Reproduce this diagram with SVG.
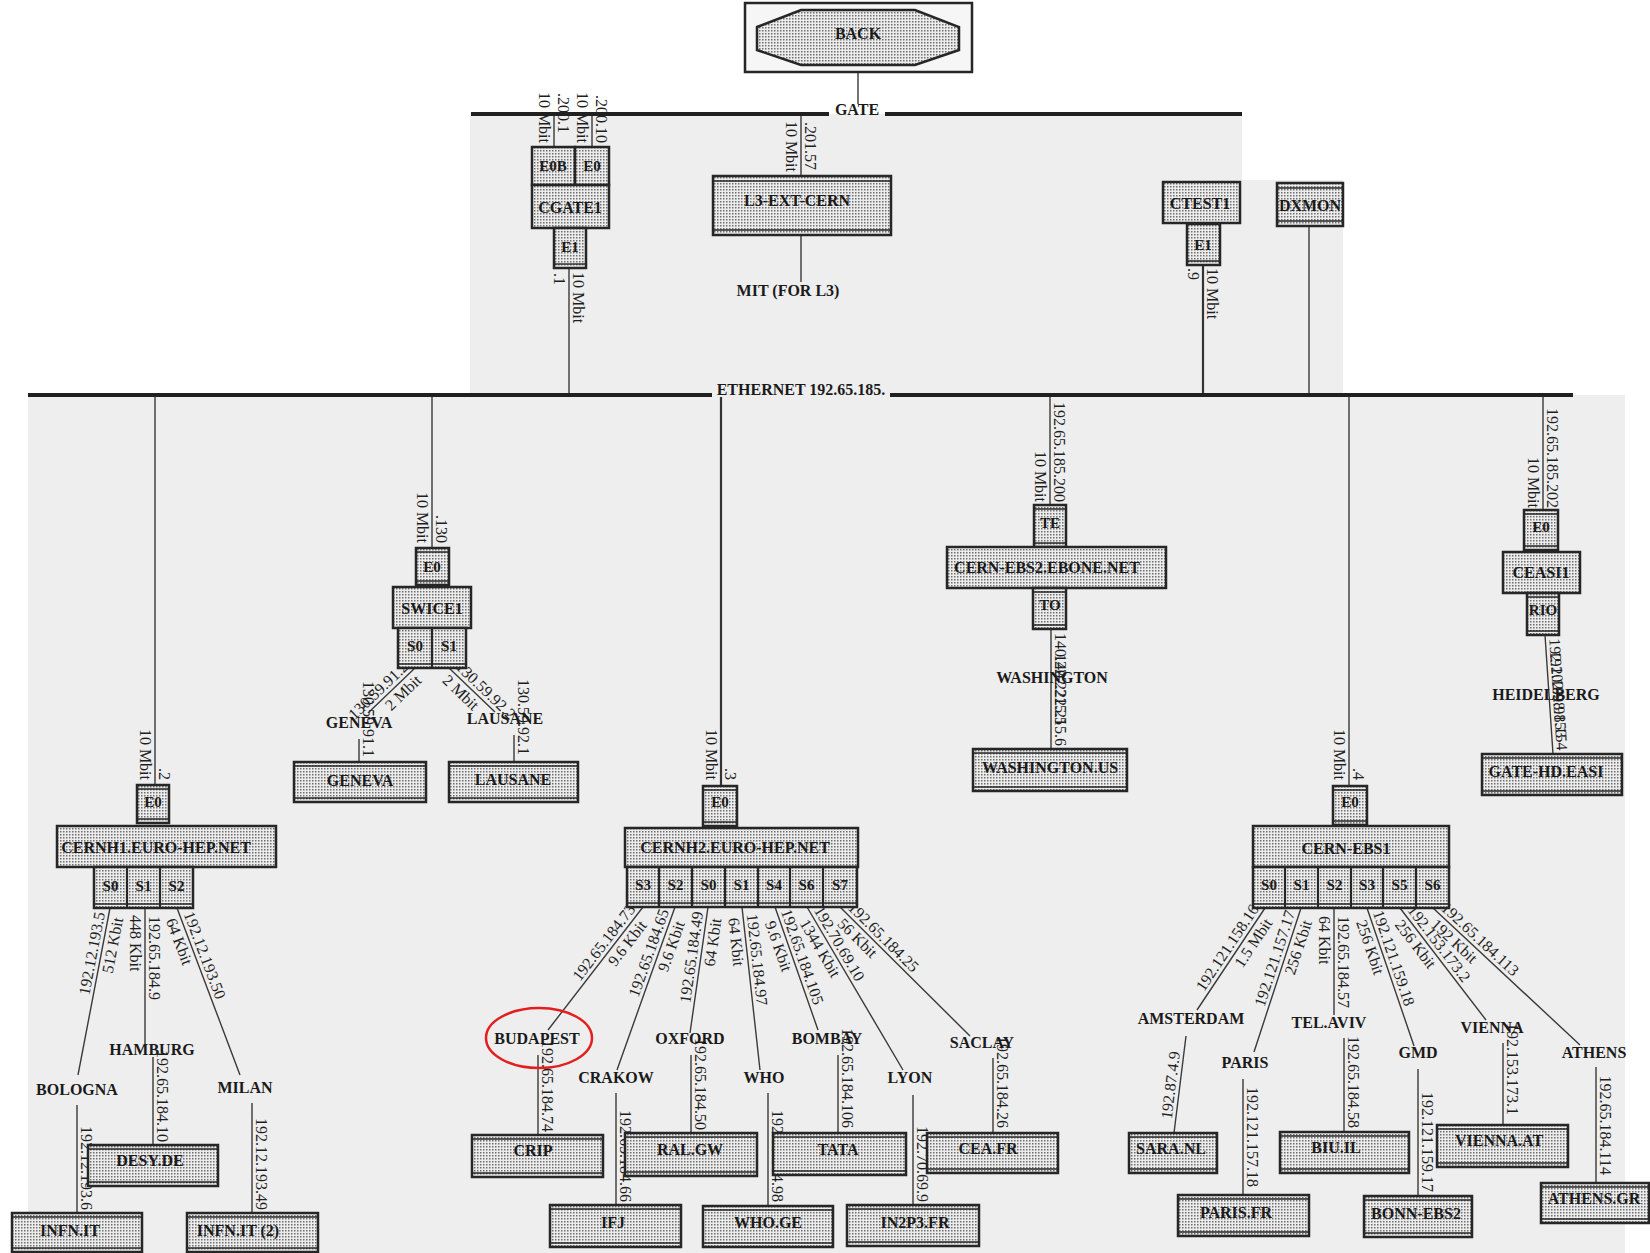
<svg xmlns="http://www.w3.org/2000/svg" width="1650" height="1253" viewBox="0 0 1650 1253">
<defs>
<pattern id="stip" width="3" height="3" patternUnits="userSpaceOnUse"><rect width="3" height="3" fill="#ececec"/><rect width="1.5" height="1.5" fill="#6e6e6e"/></pattern>
<style>
.box{fill:url(#stip);stroke:#262626;stroke-width:2.5}
.band{stroke:#262626;stroke-width:1.4;fill:none}
.div{stroke:#262626;stroke-width:2.2}
.ln{stroke:#3a3a3a;stroke-width:1.4;fill:none}
.tk{stroke:#333;stroke-width:2.2;fill:none}
.bus{stroke:#202020;stroke-width:4;fill:none}
.lbl{font-family:"Liberation Serif","Times New Roman",serif;font-size:16px;fill:#1e1e1e}
.nt{font-family:"Liberation Serif","Times New Roman",serif;font-size:16px;font-weight:bold;fill:#1a1a1a;text-anchor:middle}
.pt{font-family:"Liberation Serif","Times New Roman",serif;font-size:15px;font-weight:bold;fill:#1a1a1a;text-anchor:middle}
</style>
</defs>
<rect x="0" y="0" width="1650" height="1253" fill="#ffffff"/>
<path d="M470 114 H1242 V180 H1343 V395 H470 Z" fill="#eeeeee"/>
<rect x="28" y="395" width="1597" height="858" fill="#eeeeee"/>

<g id="connectors">
<path class="ln" d="M858 72 V104"/>
<path class="ln" d="M554 116 V147 M592 116 V147 M801 116 V176 M801 235 V282"/>
<path class="ln" d="M569 268 V393"/>
<path class="tk" d="M1203 265 V393"/>
<path class="ln" d="M1309 226 V393"/>
<path class="ln" d="M155 397 V785 M432 397 V548"/>
<path class="tk" d="M721 397 V786"/>
<path class="ln" d="M1050 397 V505 M1349 397 V786 M1543 397 V510"/>
<path class="ln" d="M110 908 L78 1075 M145 908 V1045 M177 908 L240 1075 M77 1105 V1213 M153 1057 V1145 M252 1103 V1213"/>
<path class="ln" d="M415 668 L368 713 M449 668 L495 712 M359 739 V762 M514 735 V762"/>
<path class="ln" d="M643 907 L548 1030 M675 907 L617 1070 M708 907 L690 1033 M742 907 L760 1070 M775 907 L818 1030 M807 907 L903 1070 M840 907 L970 1036"/>
<path class="ln" d="M538 1055 V1135 M616 1093 V1205 M691 1055 V1133 M768 1093 V1206 M838 1055 V1133 M913 1095 V1205 M993 1058 V1133"/>
<path class="ln" d="M1051 629 V749 M1545 635 L1553 754"/>
<path class="ln" d="M1265 908 L1197 1010 M1301 908 L1254 1052 M1334 908 V1015 M1367 908 L1414 1046 M1400 908 L1486 1020 M1433 908 L1580 1045"/>
<path class="ln" d="M1186 1036 L1174 1133 M1243 1079 V1195 M1344 1038 V1132 M1418 1069 V1196 M1503 1043 V1125 M1596 1067 V1183"/>
</g>

<g id="link-labels">
<text class="lbl" transform="translate(554,147) rotate(90)" x="-4" y="15" text-anchor="end">10 Mbit</text>
<text class="lbl" transform="translate(554,147) rotate(90)" x="-14" y="-4" text-anchor="end">.200.1</text>
<text class="lbl" transform="translate(592,147) rotate(90)" x="-4" y="15" text-anchor="end">10 Mbit</text>
<text class="lbl" transform="translate(592,147) rotate(90)" x="-4" y="-4" text-anchor="end">.200.10</text>
<text class="lbl" transform="translate(801,176) rotate(90)" x="-4" y="15" text-anchor="end">10 Mbit</text>
<text class="lbl" transform="translate(801,176) rotate(90)" x="-6" y="-4" text-anchor="end">.201.57</text>
<text class="lbl" transform="translate(569,268) rotate(90)" x="5" y="15">.1</text>
<text class="lbl" transform="translate(569,268) rotate(90)" x="4" y="-4">10 Mbit</text>
<text class="lbl" transform="translate(1203,265) rotate(90)" x="3" y="15">.9</text>
<text class="lbl" transform="translate(1203,265) rotate(90)" x="3" y="-4">10 Mbit</text>
<text class="lbl" transform="translate(155,785) rotate(90)" x="-5" y="15" text-anchor="end">10 Mbit</text>
<text class="lbl" transform="translate(155,785) rotate(90)" x="-5" y="-4" text-anchor="end">.2</text>
<text class="lbl" transform="translate(432,548) rotate(90)" x="-5" y="15" text-anchor="end">10 Mbit</text>
<text class="lbl" transform="translate(432,548) rotate(90)" x="-5" y="-4" text-anchor="end">.130</text>
<text class="lbl" transform="translate(721,786) rotate(90)" x="-6" y="15" text-anchor="end">10 Mbit</text>
<text class="lbl" transform="translate(721,786) rotate(90)" x="-6" y="-4" text-anchor="end">.3</text>
<text class="lbl" transform="translate(1050,505) rotate(90)" x="-3" y="15" text-anchor="end">10 Mbit</text>
<text class="lbl" transform="translate(1050,505) rotate(90)" x="-3" y="-4" text-anchor="end">192.65.185.200</text>
<text class="lbl" transform="translate(1349,786) rotate(90)" x="-6" y="15" text-anchor="end">10 Mbit</text>
<text class="lbl" transform="translate(1349,786) rotate(90)" x="-6" y="-4" text-anchor="end">.4</text>
<text class="lbl" transform="translate(1543,510) rotate(90)" x="-2" y="15" text-anchor="end">10 Mbit</text>
<text class="lbl" transform="translate(1543,510) rotate(90)" x="-2" y="-4" text-anchor="end">192.65.185.202</text>

<text class="lbl" transform="translate(110,908) rotate(-79.15)" x="-6" y="-4" text-anchor="end">192.12.193.5</text>
<text class="lbl" transform="translate(110,908) rotate(-79.15)" x="-8" y="15" text-anchor="end">512 Kbit</text>
<text class="lbl" transform="translate(145,908) rotate(90)" x="8" y="-4">192.65.184.9</text>
<text class="lbl" transform="translate(145,908) rotate(90)" x="7" y="15">448 Kbit</text>
<text class="lbl" transform="translate(177,908) rotate(69.33)" x="8" y="-4">192.12.193.50</text>
<text class="lbl" transform="translate(177,908) rotate(69.33)" x="8" y="15">64 Kbit</text>

<text class="lbl" transform="translate(415,668) rotate(-43.75)" x="-4" y="-4" text-anchor="end">130.59.91.2</text>
<text class="lbl" transform="translate(415,668) rotate(-43.75)" x="-4" y="15" text-anchor="end">2 Mbit</text>
<text class="lbl" transform="translate(449,668) rotate(43.73)" x="4" y="-4">130.59.92.2</text>
<text class="lbl" transform="translate(449,668) rotate(43.73)" x="4" y="15">2 Mbit</text>

<text class="lbl" transform="translate(643,907) rotate(-52.3)" x="-6" y="-4" text-anchor="end">192.65.184.73</text>
<text class="lbl" transform="translate(643,907) rotate(-52.3)" x="-12" y="15" text-anchor="end">9.6 Kbit</text>
<text class="lbl" transform="translate(675,907) rotate(-70.4)" x="-6" y="-4" text-anchor="end">192.65.184.65</text>
<text class="lbl" transform="translate(675,907) rotate(-70.4)" x="-12" y="15" text-anchor="end">9.6 Kbit</text>
<text class="lbl" transform="translate(708,907) rotate(-81.9)" x="-6" y="-4" text-anchor="end">192.65.184.49</text>
<text class="lbl" transform="translate(708,907) rotate(-81.9)" x="-10" y="15" text-anchor="end">64 Kbit</text>
<text class="lbl" transform="translate(742,907) rotate(83.7)" x="8" y="-4">192.65.184.97</text>
<text class="lbl" transform="translate(742,907) rotate(83.7)" x="10" y="15">64 Kbit</text>
<text class="lbl" transform="translate(775,907) rotate(70.7)" x="6" y="-4">192.65.184.105</text>
<text class="lbl" transform="translate(775,907) rotate(70.7)" x="12" y="15">9.6 Kbit</text>
<text class="lbl" transform="translate(807,907) rotate(59.5)" x="6" y="-4">192.70.69.10</text>
<text class="lbl" transform="translate(807,907) rotate(59.5)" x="10" y="15">1344 Kbit</text>
<text class="lbl" transform="translate(840,907) rotate(44.8)" x="6" y="-4">192.65.184.25</text>
<text class="lbl" transform="translate(840,907) rotate(44.8)" x="10" y="15">56 Kbit</text>

<text class="lbl" transform="translate(1265,908) rotate(-56.3)" x="-4" y="-4" text-anchor="end">192.121.158.16</text>
<text class="lbl" transform="translate(1265,908) rotate(-56.3)" x="-8" y="15" text-anchor="end">1.5 Mbit</text>
<text class="lbl" transform="translate(1301,908) rotate(-71.9)" x="-6" y="-4" text-anchor="end">192.121.157.17</text>
<text class="lbl" transform="translate(1301,908) rotate(-71.9)" x="-10" y="15" text-anchor="end">256 Kbit</text>
<text class="lbl" transform="translate(1334,908) rotate(90)" x="8" y="-4">192.65.184.57</text>
<text class="lbl" transform="translate(1334,908) rotate(90)" x="8" y="15">64 Kbit</text>
<text class="lbl" transform="translate(1367,908) rotate(71.2)" x="6" y="-4">192.121.159.18</text>
<text class="lbl" transform="translate(1367,908) rotate(71.2)" x="10" y="15">256 Kbit</text>
<text class="lbl" transform="translate(1400,908) rotate(52.5)" x="6" y="-4">192.153.173.2</text>
<text class="lbl" transform="translate(1400,908) rotate(52.5)" x="10" y="15">256 Kbit</text>
<text class="lbl" transform="translate(1433,908) rotate(43)" x="6" y="-4">192.65.184.113</text>
<text class="lbl" transform="translate(1433,908) rotate(43)" x="10" y="15">192 Kbit</text>

<text class="lbl" transform="translate(77,1213) rotate(90)" x="-3" y="-4" text-anchor="end">192.12.193.6</text>
<text class="lbl" transform="translate(153,1145) rotate(90)" x="-3" y="-4" text-anchor="end">192.65.184.10</text>
<text class="lbl" transform="translate(252,1213) rotate(90)" x="-3" y="-4" text-anchor="end">192.12.193.49</text>
<text class="lbl" transform="translate(359,762) rotate(90)" x="-5" y="-4" text-anchor="end">130.59.91.1</text>
<text class="lbl" transform="translate(514,762) rotate(90)" x="-7" y="-4" text-anchor="end">130.59.92.1</text>
<text class="lbl" transform="translate(538,1135) rotate(90)" x="-3" y="-4" text-anchor="end">192.65.184.74</text>
<text class="lbl" transform="translate(616,1205) rotate(90)" x="-3" y="-4" text-anchor="end">192.65.184.66</text>
<text class="lbl" transform="translate(691,1133) rotate(90)" x="-3" y="-4" text-anchor="end">192.65.184.50</text>
<text class="lbl" transform="translate(768,1206) rotate(90)" x="-4" y="-4" text-anchor="end">192.65.184.98</text>
<text class="lbl" transform="translate(838,1133) rotate(90)" x="-5" y="-4" text-anchor="end">192.65.184.106</text>
<text class="lbl" transform="translate(913,1205) rotate(90)" x="-3" y="-4" text-anchor="end">192.70.69.9</text>
<text class="lbl" transform="translate(993,1133) rotate(90)" x="-5" y="-4" text-anchor="end">192.65.184.26</text>
<text class="lbl" transform="translate(1174,1133) rotate(-82.95)" x="13" y="-4">192.87.4.9</text>
<text class="lbl" transform="translate(1243,1195) rotate(90)" x="-8" y="-4" text-anchor="end">192.121.157.18</text>
<text class="lbl" transform="translate(1344,1132) rotate(90)" x="-4" y="-4" text-anchor="end">192.65.184.58</text>
<text class="lbl" transform="translate(1418,1196) rotate(90)" x="-4" y="-4" text-anchor="end">192.121.159.17</text>
<text class="lbl" transform="translate(1503,1125) rotate(90)" x="-10" y="-4" text-anchor="end">192.153.173.1</text>
<text class="lbl" transform="translate(1596,1183) rotate(90)" x="-8" y="-4" text-anchor="end">192.65.184.114</text>
<text class="lbl" transform="translate(1051,629) rotate(90)" x="4" y="-4">140.222.215.5</text>
<text class="lbl" transform="translate(1051,749) rotate(90)" x="-3" y="-4" text-anchor="end">140.222.215.6</text>
<text class="lbl" transform="translate(1545,635) rotate(86.15)" x="4" y="-4">192.102.98.153</text>
<text class="lbl" transform="translate(1553,754) rotate(86.15)" x="-3" y="-4" text-anchor="end">192.102.98.154</text>
</g>

<g id="gate">
<path class="bus" d="M471 114 H829 M885 114 H1242"/>
<text class="nt" x="857" y="115">GATE</text>
</g>
<g id="ethernet">
<path class="bus" d="M28 395 H712 M890 395 H1573"/>
<text class="nt" x="801" y="395">ETHERNET 192.65.185.</text>
</g>

<g id="back">
<rect x="745" y="3" width="227" height="69" fill="#f6f6f6" stroke="#262626" stroke-width="2.5"/>
<polygon class="box" points="757,27 801,10 915,10 959,27 959,50 915,65 801,65 757,50" stroke-width="2"/>
<text class="nt" x="858" y="39">BACK</text>
</g>

<g id="cgate1">
<rect class="box" x="532" y="147" width="43" height="38"/>
<rect class="box" x="575" y="147" width="34" height="38"/>
<rect class="box" x="532" y="185" width="77" height="43"/>
<rect class="box" x="554" y="228" width="32" height="40"/>
<path class="band" d="M554 264 H586"/>
<text class="pt" x="553" y="171">E0B</text>
<text class="pt" x="592" y="171">E0</text>
<text class="nt" x="570" y="213">CGATE1</text>
<text class="pt" x="570" y="252">E1</text>
</g>

<g id="l3-ext-cern">
<rect class="box" x="713" y="176" width="178" height="59"/>
<path class="band" d="M713 181 H891 M713 230 H891"/>
<text class="nt" x="797" y="206">L3-EXT-CERN</text>
</g>
<g id="mit"><text class="nt" x="788" y="296">MIT (FOR L3)</text></g>

<g id="ctest1">
<rect class="box" x="1163" y="182" width="77" height="41"/>
<rect class="box" x="1187" y="224" width="33" height="41"/>
<path class="band" d="M1187 261 H1220"/>
<text class="nt" x="1200" y="209">CTEST1</text>
<text class="pt" x="1203" y="250">E1</text>
</g>
<g id="dxmon">
<rect class="box" x="1277" y="183" width="66" height="43"/>
<path class="band" d="M1277 188 H1343 M1277 221 H1343"/>
<text class="nt" x="1310" y="211">DXMON</text>
</g>

<g id="cernh1">
<rect class="box" x="137" y="785" width="32" height="38"/>
<path class="band" d="M137 789 H169 M137 819 H169"/>
<rect class="box" x="57" y="826" width="219" height="41"/>
<rect class="box" x="94" y="867" width="99" height="41"/>
<path class="div" d="M127 867 V908 M160 867 V908"/>
<path class="band" d="M94 904 H193"/>
<text class="pt" x="153" y="807">E0</text>
<text class="nt" x="156" y="853">CERNH1.EURO-HEP.NET</text>
<text class="pt" x="110.5" y="891">S0</text>
<text class="pt" x="143.5" y="891">S1</text>
<text class="pt" x="176.5" y="891">S2</text>
</g>

<g id="swice1">
<rect class="box" x="416" y="548" width="33" height="37"/>
<path class="band" d="M416 552 H449 M416 581 H449"/>
<rect class="box" x="393" y="587" width="78" height="41"/>
<rect class="box" x="398" y="628" width="68" height="40"/>
<path class="div" d="M432 628 V668"/>
<path class="band" d="M398 664 H466"/>
<text class="pt" x="432" y="572">E0</text>
<text class="nt" x="432" y="614">SWICE1</text>
<text class="pt" x="415" y="651">S0</text>
<text class="pt" x="449" y="651">S1</text>
</g>

<g id="cernh2">
<rect class="box" x="703" y="786" width="34" height="40"/>
<path class="band" d="M703 790 H737 M703 822 H737"/>
<rect class="box" x="625" y="828" width="233" height="39"/>
<rect class="box" x="627" y="867" width="230" height="40"/>
<path class="div" d="M659 867 V907 M692 867 V907 M725 867 V907 M758 867 V907 M790 867 V907 M823 867 V907"/>
<path class="band" d="M627 903 H857"/>
<text class="pt" x="720" y="807">E0</text>
<text class="nt" x="735" y="853">CERNH2.EURO-HEP.NET</text>
<text class="pt" x="643" y="890">S3</text>
<text class="pt" x="675.5" y="890">S2</text>
<text class="pt" x="708.5" y="890">S0</text>
<text class="pt" x="741.5" y="890">S1</text>
<text class="pt" x="774" y="890">S4</text>
<text class="pt" x="806.5" y="890">S6</text>
<text class="pt" x="840" y="890">S7</text>
</g>

<g id="cern-ebs2">
<rect class="box" x="1034" y="505" width="32" height="42"/>
<path class="band" d="M1034 509 H1066 M1034 543 H1066"/>
<rect class="box" x="947" y="547" width="219" height="41"/>
<rect class="box" x="1033" y="588" width="33" height="41"/>
<path class="band" d="M1033 592 H1066 M1033 625 H1066"/>
<text class="pt" x="1050" y="528">TE</text>
<text class="nt" x="1047" y="573">CERN-EBS2.EBONE.NET</text>
<text class="pt" x="1050" y="610">TO</text>
</g>

<g id="ceasi1">
<rect class="box" x="1524" y="510" width="34" height="40"/>
<path class="band" d="M1524 514 H1558 M1524 546 H1558"/>
<rect class="box" x="1503" y="552" width="77" height="41"/>
<rect class="box" x="1527" y="593" width="32" height="42"/>
<path class="band" d="M1527 597 H1559 M1527 631 H1559"/>
<text class="pt" x="1541" y="532">E0</text>
<text class="nt" x="1541" y="578">CEASI1</text>
<text class="pt" x="1543" y="615">RIO</text>
</g>

<g id="cern-ebs1">
<rect class="box" x="1333" y="786" width="34" height="39"/>
<path class="band" d="M1333 790 H1367 M1333 821 H1367"/>
<rect class="box" x="1253" y="826" width="196" height="41"/>
<rect class="box" x="1253" y="867" width="196" height="41"/>
<path class="div" d="M1285 867 V908 M1318 867 V908 M1351 867 V908 M1383 867 V908 M1416 867 V908"/>
<path class="band" d="M1253 904 H1449"/>
<text class="pt" x="1350" y="807">E0</text>
<text class="nt" x="1346" y="854">CERN-EBS1</text>
<text class="pt" x="1269" y="890">S0</text>
<text class="pt" x="1301.5" y="890">S1</text>
<text class="pt" x="1334.5" y="890">S2</text>
<text class="pt" x="1367" y="890">S3</text>
<text class="pt" x="1399.5" y="890">S5</text>
<text class="pt" x="1432.5" y="890">S6</text>
</g>

<g id="geneva-box"><rect class="box" x="294" y="762" width="132" height="40"/><path class="band" d="M294 766 H426 M294 798 H426"/><text class="nt" x="360" y="786">GENEVA</text></g>
<g id="lausane-box"><rect class="box" x="449" y="762" width="129" height="40"/><path class="band" d="M449 766 H578 M449 798 H578"/><text class="nt" x="513" y="785">LAUSANE</text></g>
<g id="washington-us"><rect class="box" x="973" y="749" width="154" height="42"/><path class="band" d="M973 753 H1127 M973 787 H1127"/><text class="nt" x="1050" y="773">WASHINGTON.US</text></g>
<g id="gate-hd-easi"><rect class="box" x="1482" y="754" width="140" height="41"/><path class="band" d="M1482 758 H1622 M1482 791 H1622"/><text class="nt" x="1546" y="777">GATE-HD.EASI</text></g>
<g id="desy-de"><rect class="box" x="88" y="1145" width="130" height="41"/><path class="band" d="M88 1149 H218 M88 1182 H218"/><text class="nt" x="150" y="1166">DESY.DE</text></g>
<g id="infn-it"><rect class="box" x="12" y="1213" width="130" height="39"/><path class="band" d="M12 1217 H142 M12 1248 H142"/><text class="nt" x="70" y="1236">INFN.IT</text></g>
<g id="infn-it-2"><rect class="box" x="187" y="1213" width="131" height="39"/><path class="band" d="M187 1217 H318 M187 1248 H318"/><text class="nt" x="238" y="1236">INFN.IT (2)</text></g>
<g id="crip"><rect class="box" x="472" y="1135" width="131" height="42"/><path class="band" d="M472 1139 H603 M472 1173 H603"/><text class="nt" x="533" y="1156">CRIP</text></g>
<g id="ifj"><rect class="box" x="550" y="1205" width="131" height="42"/><path class="band" d="M550 1209 H681 M550 1243 H681"/><text class="nt" x="613" y="1228">IFJ</text></g>
<g id="ral-gw"><rect class="box" x="625" y="1133" width="132" height="43"/><path class="band" d="M625 1137 H757 M625 1172 H757"/><text class="nt" x="690" y="1155">RAL.GW</text></g>
<g id="who-ge"><rect class="box" x="703" y="1206" width="130" height="41"/><path class="band" d="M703 1210 H833 M703 1243 H833"/><text class="nt" x="768" y="1228">WHO.GE</text></g>
<g id="tata"><rect class="box" x="773" y="1133" width="133" height="42"/><path class="band" d="M773 1137 H906 M773 1171 H906"/><text class="nt" x="838" y="1155">TATA</text></g>
<g id="in2p3-fr"><rect class="box" x="847" y="1205" width="132" height="41"/><path class="band" d="M847 1209 H979 M847 1242 H979"/><text class="nt" x="915" y="1228">IN2P3.FR</text></g>
<g id="cea-fr"><rect class="box" x="927" y="1133" width="131" height="40"/><path class="band" d="M927 1137 H1058 M927 1169 H1058"/><text class="nt" x="988" y="1154">CEA.FR</text></g>
<g id="sara-nl"><rect class="box" x="1129" y="1133" width="88" height="40"/><path class="band" d="M1129 1137 H1217 M1129 1169 H1217"/><text class="nt" x="1171" y="1154">SARA.NL</text></g>
<g id="paris-fr"><rect class="box" x="1178" y="1195" width="131" height="41"/><path class="band" d="M1178 1199 H1309 M1178 1232 H1309"/><text class="nt" x="1236" y="1218">PARIS.FR</text></g>
<g id="biu-il"><rect class="box" x="1280" y="1132" width="129" height="41"/><path class="band" d="M1280 1136 H1409 M1280 1169 H1409"/><text class="nt" x="1336" y="1153">BIU.IL</text></g>
<g id="bonn-ebs2"><rect class="box" x="1364" y="1196" width="108" height="41"/><path class="band" d="M1364 1200 H1472 M1364 1233 H1472"/><text class="nt" x="1416" y="1219">BONN-EBS2</text></g>
<g id="vienna-at"><rect class="box" x="1437" y="1125" width="131" height="42"/><path class="band" d="M1437 1129 H1568 M1437 1163 H1568"/><text class="nt" x="1499" y="1146">VIENNA.AT</text></g>
<g id="athens-gr"><rect class="box" x="1541" y="1183" width="108" height="40"/><path class="band" d="M1541 1187 H1649 M1541 1219 H1649"/><text class="nt" x="1594" y="1204">ATHENS.GR</text></g>

<g id="cities">
<g id="bologna"><text class="nt" x="77" y="1095">BOLOGNA</text></g>
<g id="hamburg"><text class="nt" x="152" y="1055">HAMBURG</text></g>
<g id="milan"><text class="nt" x="245" y="1093">MILAN</text></g>
<g id="geneva"><text class="nt" x="359" y="728">GENEVA</text></g>
<g id="lausane"><text class="nt" x="505" y="724">LAUSANE</text></g>
<g id="budapest"><text class="nt" x="537" y="1044">BUDAPEST</text></g>
<g id="crakow"><text class="nt" x="616" y="1083">CRAKOW</text></g>
<g id="oxford"><text class="nt" x="690" y="1044">OXFORD</text></g>
<g id="who"><text class="nt" x="764" y="1083">WHO</text></g>
<g id="bombay"><text class="nt" x="827" y="1044">BOMBAY</text></g>
<g id="lyon"><text class="nt" x="910" y="1083">LYON</text></g>
<g id="saclay"><text class="nt" x="982" y="1048">SACLAY</text></g>
<g id="washington"><text class="nt" x="1052" y="683">WASHINGTON</text></g>
<g id="heidelberg"><text class="nt" x="1546" y="700">HEIDELBERG</text></g>
<g id="amsterdam"><text class="nt" x="1191" y="1024">AMSTERDAM</text></g>
<g id="paris"><text class="nt" x="1245" y="1068">PARIS</text></g>
<g id="tel-aviv"><text class="nt" x="1329" y="1028">TEL.AVIV</text></g>
<g id="gmd"><text class="nt" x="1418" y="1058">GMD</text></g>
<g id="vienna"><text class="nt" x="1492" y="1033">VIENNA</text></g>
<g id="athens"><text class="nt" x="1594" y="1058">ATHENS</text></g>
</g>

<g id="highlight">
<ellipse cx="539" cy="1038" rx="53" ry="30" fill="none" stroke="#e41e1e" stroke-width="2.5"/>
</g>
</svg>
